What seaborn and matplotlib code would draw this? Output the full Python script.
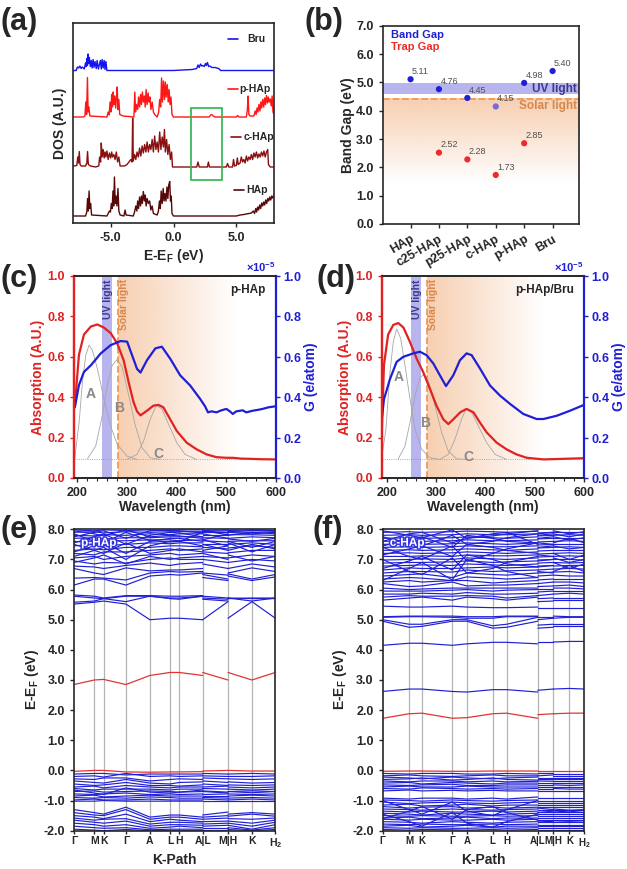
import numpy as np
import pandas as pd
import matplotlib
matplotlib.use("Agg")
import matplotlib.pyplot as plt
import matplotlib.patheffects as pe
import seaborn as sns
from matplotlib.patches import Rectangle
from matplotlib.colors import to_rgb
from matplotlib.ticker import MultipleLocator, FormatStrFormatter


# -------------------------
# Data: (a) DOS, (E, DOS) pairs
# -------------------------
bru_dos = [(-8.0, 0.0), (-7.75, 0.0), (-7.65, 0.07), (-7.55, 0.05), (-7.45, 0.09), (-7.35, 0.04),
           (-7.25, 0.07), (-7.1, 0.03), (-7.0, 0.15), (-6.95, 0.08), (-6.9, 0.24), (-6.85, 0.1),
           (-6.8, 0.33), (-6.75, 0.14), (-6.7, 0.26), (-6.62, 0.08), (-6.55, 0.2), (-6.48, 0.05),
           (-6.4, 0.22), (-6.33, 0.06), (-6.25, 0.18), (-6.15, 0.04), (-6.08, 0.2), (-5.98, 0.03),
           (-5.9, 0.12), (-5.82, 0.2), (-5.75, 0.03), (-5.68, 0.22), (-5.6, 0.05), (-5.52, 0.2),
           (-5.45, 0.02), (-5.38, 0.18), (-5.3, 0.0), (0.0, 0.0), (1.5, 0.02), (1.85, 0.04),
           (1.95, 0.11), (2.05, 0.06), (2.15, 0.13), (2.25, 0.09), (2.35, 0.1), (2.45, 0.08),
           (2.55, 0.14), (2.62, 0.1), (2.7, 0.16), (2.8, 0.08), (2.9, 0.09), (3.05, 0.06),
           (3.3, 0.06), (3.6, 0.04), (3.75, 0.0), (8.0, 0.0)]

phap_dos = [(-8.0, 0.0), (-7.2, 0.0), (-7.05, 0.02), (-6.98, 0.3), (-6.92, 0.05), (-6.85, 0.79),
            (-6.8, 0.1), (-6.75, 0.2), (-6.65, 0.02), (-5.3, 0.0), (-5.2, 0.1), (-5.12, 0.04),
            (-5.05, 0.3), (-4.98, 0.1), (-4.92, 0.45), (-4.86, 0.2), (-4.8, 0.5), (-4.74, 0.25),
            (-4.68, 0.42), (-4.6, 0.18), (-4.55, 0.38), (-4.48, 0.6), (-4.42, 0.15), (-4.35, 0.35),
            (-4.28, 0.05), (-4.0, 0.02), (-3.15, 0.0), (-3.08, 0.5), (-3.02, 0.1), (-2.95, 0.25),
            (-2.85, 0.15), (-2.78, 0.4), (-2.7, 0.2), (-2.62, 0.45), (-2.55, 0.25), (-2.48, 0.5),
            (-2.4, 0.3), (-2.32, 0.42), (-2.25, 0.2), (-2.18, 0.55), (-2.1, 0.25), (-2.02, 0.48),
            (-1.95, 0.3), (-1.88, 0.4), (-1.8, 0.15), (-1.7, 0.3), (-1.6, 0.1), (-1.5, 0.05),
            (-1.3, 0.0), (-1.18, 0.1), (-1.1, 0.35), (-1.02, 0.2), (-0.95, 0.78), (-0.88, 0.3),
            (-0.8, 0.72), (-0.72, 0.35), (-0.65, 0.7), (-0.58, 0.4), (-0.5, 0.65), (-0.42, 0.3),
            (-0.35, 0.55), (-0.28, 0.25), (-0.2, 0.4), (-0.12, 0.05), (0.0, 0.0), (2.85, 0.0),
            (2.95, 0.04), (3.05, 0.05), (3.15, 0.02), (3.3, 0.0), (5.0, 0.0), (5.1, 0.03),
            (5.2, 0.0), (5.8, 0.0), (5.88, 0.15), (5.94, 0.42), (6.0, 0.05), (6.1, 0.02),
            (6.4, 0.02), (6.5, 0.12), (6.58, 0.05), (6.65, 0.18), (6.72, 0.1), (6.8, 0.25),
            (6.88, 0.12), (6.95, 0.3), (7.02, 0.18), (7.1, 0.35), (7.18, 0.2), (7.25, 0.38),
            (7.32, 0.25), (7.4, 0.43), (7.48, 0.28), (7.55, 0.4), (7.62, 0.3), (7.7, 0.36),
            (7.78, 0.22), (7.85, 0.42), (7.92, 0.1), (8.0, 0.05)]

chap_dos = [(-8.0, 0.02), (-7.7, 0.03), (-7.62, 0.2), (-7.56, 0.08), (-7.5, 0.31), (-7.44, 0.05),
            (-7.35, 0.02), (-7.0, 0.02), (-6.9, 0.08), (-6.84, 0.31), (-6.78, 0.05), (-6.6, 0.02),
            (-6.2, 0.0), (-5.95, 0.02), (-5.88, 0.2), (-5.8, 0.1), (-5.75, 0.48), (-5.68, 0.2),
            (-5.6, 0.35), (-5.52, 0.18), (-5.45, 0.3), (-5.38, 0.2), (-5.3, 0.32), (-5.2, 0.15),
            (-5.1, 0.28), (-5.0, 0.18), (-4.92, 0.3), (-4.85, 0.2), (-4.75, 0.25), (-4.65, 0.15),
            (-4.55, 0.3), (-4.45, 0.1), (-4.35, 0.2), (-4.25, 0.02), (-3.9, 0.02), (-3.7, 0.05),
            (-3.55, 0.1), (-3.4, 0.15), (-3.3, 0.1), (-3.25, 0.98), (-3.2, 0.12), (-3.1, 0.25),
            (-3.0, 0.15), (-2.9, 0.3), (-2.8, 0.2), (-2.7, 0.38), (-2.6, 0.22), (-2.5, 0.42),
            (-2.4, 0.28), (-2.3, 0.45), (-2.2, 0.3), (-2.1, 0.5), (-2.0, 0.3), (-1.9, 0.45),
            (-1.8, 0.35), (-1.7, 0.55), (-1.6, 0.3), (-1.5, 0.62), (-1.4, 0.35), (-1.3, 0.5),
            (-1.2, 0.3), (-1.1, 0.7), (-1.0, 0.35), (-0.9, 0.6), (-0.8, 0.4), (-0.72, 0.75),
            (-0.65, 0.3), (-0.55, 0.55), (-0.45, 0.25), (-0.35, 0.45), (-0.25, 0.15), (-0.15, 0.3),
            (-0.08, 0.0), (1.85, 0.0), (1.95, 0.1), (2.05, 0.0), (2.7, 0.0), (2.78, 0.1),
            (2.86, 0.0), (4.2, 0.0), (4.3, 0.07), (4.4, 0.0), (4.7, 0.0), (4.78, 0.15),
            (4.86, 0.02), (5.0, 0.03), (5.08, 0.18), (5.15, 0.05), (5.3, 0.08), (5.4, 0.2),
            (5.5, 0.1), (5.6, 0.15), (5.7, 0.08), (5.8, 0.22), (5.9, 0.12), (6.0, 0.2),
            (6.1, 0.15), (6.2, 0.25), (6.3, 0.15), (6.4, 0.28), (6.5, 0.2), (6.6, 0.3),
            (6.7, 0.18), (6.8, 0.26), (6.9, 0.2), (7.0, 0.3), (7.1, 0.22), (7.2, 0.32),
            (7.3, 0.2), (7.4, 0.3), (7.5, 0.35), (7.56, 0.05), (7.7, 0.0), (8.0, 0.0)]

hap_dos = [(-8.0, 0.0), (-7.0, 0.0), (-6.9, 0.08), (-6.84, 0.35), (-6.78, 0.1), (-6.72, 0.5),
           (-6.66, 0.15), (-6.6, 0.25), (-6.52, 0.02), (-5.3, 0.0), (-5.2, 0.05), (-5.1, 0.1),
           (-5.02, 0.08), (-4.95, 0.25), (-4.88, 0.15), (-4.82, 0.5), (-4.76, 0.2), (-4.7, 0.78),
           (-4.64, 0.25), (-4.58, 0.4), (-4.5, 0.2), (-4.42, 0.55), (-4.35, 0.1), (-4.25, 0.02),
           (-3.95, 0.0), (-3.85, 0.12), (-3.78, 0.02), (-3.2, 0.0), (-3.1, 0.08), (-3.0, 0.2),
           (-2.92, 0.1), (-2.85, 0.3), (-2.78, 0.15), (-2.7, 0.38), (-2.62, 0.2), (-2.55, 0.4),
           (-2.48, 0.25), (-2.4, 0.49), (-2.32, 0.3), (-2.25, 0.42), (-2.18, 0.2), (-2.1, 0.35),
           (-2.0, 0.25), (-1.9, 0.3), (-1.8, 0.12), (-1.7, 0.2), (-1.6, 0.05), (-1.3, 0.02),
           (-1.2, 0.1), (-1.12, 0.3), (-1.05, 0.15), (-0.98, 0.5), (-0.9, 0.25), (-0.82, 0.55),
           (-0.75, 0.3), (-0.68, 0.45), (-0.6, 0.3), (-0.52, 0.58), (-0.45, 0.35), (-0.38, 0.62),
           (-0.3, 0.69), (-0.24, 0.3), (-0.18, 0.4), (-0.12, 0.05), (0.0, 0.0), (5.0, 0.0),
           (5.3, 0.02), (5.6, 0.03), (5.8, 0.04), (6.0, 0.05), (6.2, 0.06), (6.35, 0.1),
           (6.45, 0.05), (6.55, 0.15), (6.62, 0.08), (6.7, 0.18), (6.78, 0.12), (6.86, 0.22),
           (6.94, 0.15), (7.02, 0.26), (7.1, 0.2), (7.18, 0.28), (7.26, 0.22), (7.34, 0.32),
           (7.42, 0.25), (7.5, 0.35), (7.58, 0.3), (7.66, 0.38), (7.74, 0.32), (7.82, 0.4),
           (7.9, 0.36), (8.0, 0.42)]

dos_offsets = {"HAp": 0.14, "c-HAp": 1.12, "p-HAp": 2.12, "Bru": 3.05}


# -------------------------
# Data: (b) gaps
# -------------------------
materials = ["HAp", "c25-HAp", "p25-HAp", "c-HAp", "p-HAp", "Bru"]
band_gap = [5.11, 4.76, 4.45, 4.15, 4.98, 5.40]
trap_gap = [np.nan, 2.52, 2.28, 1.73, 2.85, np.nan]
uv_gap = (4.60, 4.97)
solar_gap = 4.42


# -------------------------
# Data: (c), (d) absorption (A.U.) and G (x1e-5 e/atom), (nm, value)
# -------------------------
abs_phap = [(194.7, 0.358), (203, 0.61), (213, 0.71), (227, 0.75), (240, 0.76), (253, 0.745),
            (267, 0.717), (280, 0.667), (293, 0.583), (303, 0.475), (313, 0.375), (320, 0.33),
            (327, 0.31), (340, 0.333), (353, 0.358), (363, 0.362), (373, 0.35), (387, 0.29),
            (400, 0.233), (420, 0.175), (440, 0.142), (460, 0.117), (480, 0.103), (500, 0.1),
            (513, 0.1), (530, 0.096), (547, 0.095), (570, 0.093), (599, 0.092)]
g_phap = [(194.7, 0.35), (203, 0.46), (213, 0.525), (227, 0.558), (247, 0.617), (267, 0.658),
          (287, 0.678), (300, 0.675), (310, 0.608), (320, 0.54), (327, 0.522), (340, 0.583),
          (357, 0.642), (370, 0.65), (387, 0.59), (407, 0.508), (427, 0.458), (447, 0.392),
          (457, 0.355), (463, 0.325), (470, 0.33), (480, 0.325), (490, 0.335), (500, 0.342),
          (507, 0.33), (513, 0.317), (520, 0.33), (533, 0.335), (540, 0.325), (553, 0.333),
          (565, 0.338), (573, 0.342), (585, 0.35), (599, 0.355)]
fit_phap_a = [(194.7, 0.10), (203.3, 0.275), (210, 0.475), (216.7, 0.608), (223.3, 0.658),
              (230, 0.633), (240, 0.542), (253.3, 0.392), (266.7, 0.258), (280, 0.167),
              (300, 0.108), (320, 0.092)]
fit_phap_b = [(220, 0.095), (236.7, 0.158), (250, 0.308), (260, 0.458), (270, 0.558),
              (280, 0.587), (290, 0.55), (303.3, 0.408), (316.7, 0.258), (330, 0.15),
              (346.7, 0.10), (366.7, 0.092)]
fit_phap_c = [(300, 0.092), (320, 0.117), (333.3, 0.183), (346.7, 0.292), (358.7, 0.358),
              (370, 0.342), (383.3, 0.267), (400, 0.175), (416.7, 0.117), (440, 0.092)]

abs_bru = [(190.5, 0.25), (194.6, 0.56), (203, 0.71), (213.5, 0.758), (223.6, 0.767), (234, 0.745),
           (247, 0.675), (261, 0.59), (274, 0.525), (288, 0.44), (301, 0.358), (315, 0.29),
           (325, 0.267), (335, 0.29), (349, 0.325), (362, 0.342), (376, 0.325), (389, 0.275),
           (403, 0.225), (423, 0.175), (443, 0.142), (463, 0.117), (484, 0.10), (518, 0.092),
           (560, 0.095), (600, 0.098)]
g_bru = [(190.5, 0.30), (194.6, 0.39), (206.8, 0.49), (220.3, 0.575), (233.8, 0.60), (254, 0.617),
         (267.6, 0.625), (281, 0.608), (294.6, 0.567), (308, 0.508), (320.3, 0.455), (335, 0.508),
         (348.6, 0.583), (362, 0.617), (372.3, 0.608), (389.2, 0.542), (409.5, 0.458),
         (429.7, 0.408), (450, 0.367), (477, 0.317), (504, 0.292), (517.6, 0.292),
         (544.6, 0.308), (571.6, 0.333), (600, 0.362)]
fit_bru_a = [(190, 0.10), (198.6, 0.242), (206.8, 0.525), (213.5, 0.675), (220.3, 0.738),
             (228.4, 0.692), (237.2, 0.558), (247.3, 0.392), (257.4, 0.242), (271, 0.142),
             (287.8, 0.10), (308, 0.092)]
fit_bru_b = [(223.6, 0.095), (237.2, 0.158), (247.3, 0.275), (257.4, 0.408), (267.6, 0.495),
             (274.3, 0.512), (284.5, 0.483), (298, 0.358), (311.5, 0.225), (325, 0.133),
             (341.9, 0.095), (362, 0.092)]
fit_bru_c = [(308, 0.092), (325, 0.117), (338.5, 0.192), (352, 0.292), (360.8, 0.342),
             (372.3, 0.325), (385.8, 0.258), (402.7, 0.175), (419.6, 0.117), (443.2, 0.092)]
fit_baseline = 0.092
uv_nm = (250, 270)
solar_nm = 282


# -------------------------
# Data: (e), (f) band energies at path nodes
# each band: 8 values on G-M-K-G-A-L-H-A, 2 on L-M, 3 on H-K-H2
# -------------------------
kpath_labels = ["Γ", "M", "K", "Γ", "A", "L", "H", "A|L", "M|H", "K", "H$_2$"]
kx_phap = [0, 0.101, 0.147, 0.258, 0.377, 0.477, 0.523, 0.639, 0.765, 0.884, 1.0]
kx_chap = [0, 0.131, 0.195, 0.345, 0.417, 0.545, 0.615, 0.769, 0.846, 0.926, 1.0]

phap_red_bands = [
    [2.85, 3.0, 3.02, 2.85, 3.15, 3.25, 3.25, 3.15, 3.25, 3.0, 3.25, 3.0, 3.25],
    [-0.03, 0.0, 0.0, -0.05, -0.06, -0.05, -0.05, -0.04, -0.02, 0.0, 0.0, -0.02, -0.02],
]
phap_blue_bands = [
    [-0.12, -0.10, -0.10, -0.15, -0.12, -0.12, -0.12, -0.12, -0.10, -0.12, -0.12, -0.10, -0.12],
    [-0.20, -0.18, -0.22, -0.10, -0.20, -0.18, -0.20, -0.18, -0.18, -0.20, -0.20, -0.20, -0.18],
    [-0.28, -0.30, -0.25, -0.25, -0.35, -0.30, -0.28, -0.30, -0.25, -0.28, -0.28, -0.30, -0.28],
    [-0.35, -0.40, -0.42, -0.30, -0.42, -0.45, -0.40, -0.38, -0.35, -0.40, -0.38, -0.42, -0.40],
    [-0.45, -0.50, -0.48, -0.40, -0.50, -0.50, -0.52, -0.48, -0.45, -0.50, -0.48, -0.50, -0.48],
    [-0.55, -0.52, -0.58, -0.50, -0.55, -0.58, -0.55, -0.55, -0.55, -0.52, -0.55, -0.58, -0.55],
    [-0.60, -0.65, -0.62, -0.62, -0.62, -0.65, -0.62, -0.62, -0.60, -0.62, -0.62, -0.65, -0.62],
    [-0.70, -0.68, -0.72, -0.70, -0.68, -0.70, -0.72, -0.70, -0.68, -0.72, -0.70, -0.68, -0.70],
    [-0.78, -0.80, -0.78, -0.75, -0.80, -0.78, -0.80, -0.78, -0.80, -0.78, -0.78, -0.80, -0.78],
    [-0.85, -0.82, -0.88, -0.85, -0.82, -0.85, -0.85, -0.85, -0.85, -0.85, -0.85, -0.82, -0.85],
    [-0.90, -0.92, -0.90, -0.92, -0.88, -0.90, -0.92, -0.92, -0.90, -0.92, -0.92, -0.90, -0.92],
    [-0.98, -0.95, -0.98, -0.98, -0.95, -0.98, -0.98, -0.98, -0.95, -0.98, -0.98, -0.95, -0.98],
    [-1.02, -1.02, -1.00, -1.02, -1.02, -1.02, -1.02, -1.02, -1.02, -1.02, -1.02, -1.02, -1.02],
    [-0.65, -0.75, -0.80, -0.58, -0.72, -0.75, -0.72, -0.65, -0.70, -0.75, -0.70, -0.74, -0.70],
    [-1.30, -1.40, -1.45, -1.22, -1.55, -1.48, -1.48, -1.55, -1.48, -1.38, -1.45, -1.40, -1.45],
    [-1.40, -1.48, -1.50, -1.30, -1.62, -1.55, -1.55, -1.62, -1.55, -1.50, -1.52, -1.45, -1.52],
    [-1.50, -1.55, -1.60, -1.45, -1.70, -1.62, -1.65, -1.70, -1.62, -1.58, -1.60, -1.62, -1.58],
    [-1.58, -1.65, -1.62, -1.60, -1.78, -1.72, -1.72, -1.75, -1.70, -1.68, -1.68, -1.75, -1.65],
    [-1.65, -1.72, -1.75, -1.68, -1.85, -1.80, -1.80, -1.82, -1.78, -1.75, -1.75, -1.85, -1.72],
    [-1.75, -1.80, -1.85, -1.80, -1.92, -1.88, -1.85, -1.90, -1.85, -1.82, -1.82, -1.95, -1.80],
    [-1.85, -1.90, -1.92, -1.90, -1.97, -1.95, -1.95, -1.95, -1.92, -1.92, -1.90, -1.98, -1.90],
    [-1.95, -1.98, -2.00, -1.96, -2.00, -2.00, -2.00, -2.00, -1.98, -1.98, -1.96, -2.00, -1.96],
    [5.52, 5.58, 5.62, 5.52, 5.00, 5.05, 5.05, 5.00, 5.00, 5.60, 5.05, 5.60, 5.05],
    [5.58, 5.62, 5.70, 5.60, 5.78, 5.70, 5.68, 5.78, 5.68, 5.62, 5.72, 5.62, 5.72],
    [5.78, 5.72, 5.70, 5.78, 5.78, 5.72, 5.72, 5.78, 5.72, 5.68, 5.70, 5.72, 5.72],
    [5.82, 5.78, 5.72, 5.80, 5.80, 5.78, 5.78, 5.80, 5.78, 5.72, 5.72, 5.70, 5.70],
    [6.15, 6.35, 6.35, 6.15, 6.45, 6.50, 6.48, 6.55, 6.40, 6.30, 6.45, 6.30, 6.42],
    [6.38, 6.40, 6.38, 6.32, 6.55, 6.60, 6.58, 6.60, 6.50, 6.35, 6.52, 6.35, 6.50],
    [6.70, 6.55, 6.50, 6.72, 6.62, 6.65, 6.65, 6.70, 6.55, 6.48, 6.55, 6.72, 6.60],
    [6.78, 6.75, 6.70, 6.80, 6.88, 6.80, 6.85, 6.90, 6.85, 6.70, 6.70, 6.85, 6.75],
    [6.95, 6.85, 6.90, 6.88, 7.00, 7.05, 7.00, 7.00, 7.00, 6.90, 6.90, 7.00, 6.95],
    [7.05, 7.10, 7.00, 7.10, 7.15, 7.20, 7.15, 7.20, 7.10, 7.05, 7.05, 7.15, 7.10],
    [7.20, 7.15, 7.25, 7.25, 7.30, 7.35, 7.30, 7.35, 7.25, 7.20, 7.22, 7.30, 7.30],
    [7.30, 7.35, 7.32, 7.40, 7.40, 7.45, 7.45, 7.42, 7.40, 7.35, 7.38, 7.45, 7.40],
    [7.45, 7.50, 7.45, 7.50, 7.55, 7.52, 7.55, 7.55, 7.50, 7.50, 7.50, 7.55, 7.50],
    [7.60, 7.55, 7.62, 7.62, 7.65, 7.65, 7.62, 7.65, 7.62, 7.58, 7.60, 7.62, 7.62],
    [7.70, 7.72, 7.68, 7.72, 7.72, 7.75, 7.75, 7.75, 7.72, 7.70, 7.70, 7.75, 7.72],
    [7.80, 7.78, 7.82, 7.80, 7.85, 7.82, 7.85, 7.85, 7.80, 7.80, 7.82, 7.82, 7.80],
    [7.90, 7.92, 7.88, 7.92, 7.90, 7.92, 7.92, 7.92, 7.90, 7.90, 7.92, 7.90, 7.92],
    [7.98, 7.95, 7.98, 7.96, 7.98, 7.96, 7.98, 7.98, 7.96, 7.98, 7.96, 7.98, 7.96],
    [7.10, 7.30, 7.40, 7.00, 7.45, 7.60, 7.60, 7.45, 7.50, 7.30, 7.55, 7.25, 7.50],
    [7.50, 7.30, 7.20, 7.55, 7.20, 7.30, 7.35, 7.25, 7.30, 7.45, 7.30, 7.50, 7.35],
    [7.55, 7.75, 7.85, 7.50, 7.80, 7.90, 7.88, 7.75, 7.85, 7.70, 7.80, 7.90, 7.85],
    [7.85, 7.60, 7.55, 7.90, 7.62, 7.58, 7.60, 7.90, 7.65, 7.85, 7.68, 7.60, 7.70],
    [7.25, 7.45, 7.55, 7.20, 7.60, 7.70, 7.70, 7.60, 7.65, 7.45, 7.60, 7.40, 7.60],
    [6.90, 7.05, 7.15, 6.85, 7.10, 7.00, 7.05, 7.10, 7.20, 7.00, 7.15, 6.95, 7.10],
    [7.95, 7.85, 7.78, 7.98, 7.75, 7.80, 7.78, 7.70, 7.92, 7.95, 7.90, 7.85, 7.90],
    [7.75, 7.90, 7.95, 7.70, 7.95, 7.98, 7.95, 7.88, 7.95, 7.82, 7.92, 7.96, 7.95],
]

chap_red_bands = [
    [1.73, 1.88, 1.90, 1.73, 1.75, 1.88, 1.90, 1.73, 1.85, 1.88, 1.88, 1.90, 1.90],
    [-0.03, -0.02, -0.02, -0.03, -0.03, -0.02, -0.02, -0.02, -0.02, -0.02, -0.02, -0.02, -0.02],
]
chap_blue_bands = [
    [2.62, 2.70, 2.70, 2.62, 2.60, 2.68, 2.68, 2.60, 2.66, 2.70, 2.70, 2.72, 2.70],
    [4.15, 4.22, 4.22, 4.15, 4.20, 4.25, 4.25, 4.20, 4.25, 4.25, 4.26, 4.28, 4.28],
    [4.95, 4.75, 4.78, 4.95, 4.95, 4.72, 4.75, 4.95, 4.72, 4.75, 4.78, 4.78, 4.78],
    [5.00, 4.85, 4.85, 5.00, 5.00, 4.80, 4.85, 5.08, 4.82, 4.85, 4.85, 4.85, 4.85],
    [5.08, 5.10, 5.10, 5.08, 5.05, 5.05, 5.10, 5.10, 5.00, 5.05, 5.05, 5.08, 5.08],
    [5.10, 5.12, 5.12, 5.12, 5.10, 5.10, 5.12, 5.12, 5.10, 5.10, 5.12, 5.10, 5.10],
    [5.45, 5.42, 5.42, 5.45, 5.42, 5.40, 5.40, 5.42, 5.40, 5.40, 5.38, 5.38, 5.38],
    [5.65, 5.72, 5.75, 5.65, 5.75, 5.70, 5.65, 5.75, 5.60, 5.62, 5.65, 5.65, 5.65],
    [5.75, 5.80, 5.78, 5.78, 5.80, 5.78, 5.72, 5.80, 5.70, 5.72, 5.72, 5.72, 5.72],
    [5.85, 5.85, 5.88, 5.85, 5.90, 5.85, 5.85, 5.88, 5.80, 5.85, 5.85, 5.88, 5.85],
    [5.95, 5.95, 5.95, 5.98, 6.00, 5.95, 5.98, 6.00, 5.92, 5.95, 5.95, 5.95, 5.95],
    [6.05, 6.00, 6.02, 6.05, 6.05, 6.05, 6.05, 6.05, 6.02, 6.02, 6.05, 6.05, 6.02],
    [6.20, 6.10, 6.12, 6.25, 6.12, 6.15, 6.15, 6.20, 6.10, 6.12, 6.12, 6.15, 6.10],
    [6.25, 6.30, 6.25, 6.30, 6.30, 6.22, 6.25, 6.30, 6.20, 6.25, 6.25, 6.25, 6.22],
    [6.35, 6.40, 6.38, 6.30, 6.42, 6.38, 6.35, 6.40, 6.32, 6.35, 6.35, 6.35, 6.35],
    [6.45, 6.50, 6.52, 6.40, 6.55, 6.50, 6.48, 6.55, 6.45, 6.48, 6.48, 6.45, 6.45],
    [6.55, 6.60, 6.60, 6.58, 6.65, 6.60, 6.62, 6.65, 6.55, 6.58, 6.58, 6.60, 6.55],
    [6.65, 6.72, 6.70, 6.70, 6.72, 6.75, 6.72, 6.75, 6.65, 6.68, 6.68, 6.70, 6.68],
    [6.78, 6.80, 6.82, 6.80, 6.85, 6.82, 6.80, 6.85, 6.78, 6.80, 6.78, 6.80, 6.80],
    [6.88, 6.90, 6.90, 6.92, 6.95, 6.90, 6.92, 6.95, 6.88, 6.90, 6.90, 6.88, 6.90],
    [6.98, 7.00, 7.02, 7.00, 7.05, 7.02, 7.00, 7.05, 6.98, 7.00, 7.00, 7.00, 6.98],
    [7.10, 7.10, 7.12, 7.10, 7.15, 7.12, 7.12, 7.15, 7.08, 7.10, 7.10, 7.12, 7.10],
    [7.20, 7.22, 7.20, 7.22, 7.25, 7.22, 7.20, 7.25, 7.18, 7.20, 7.20, 7.22, 7.20],
    [7.30, 7.32, 7.30, 7.32, 7.35, 7.32, 7.30, 7.35, 7.28, 7.30, 7.30, 7.30, 7.30],
    [7.40, 7.42, 7.40, 7.42, 7.45, 7.42, 7.42, 7.45, 7.38, 7.40, 7.40, 7.42, 7.40],
    [7.50, 7.52, 7.50, 7.52, 7.55, 7.52, 7.50, 7.55, 7.48, 7.50, 7.50, 7.50, 7.50],
    [7.60, 7.62, 7.60, 7.62, 7.65, 7.62, 7.62, 7.65, 7.58, 7.60, 7.60, 7.62, 7.60],
    [7.70, 7.72, 7.70, 7.72, 7.75, 7.72, 7.70, 7.75, 7.68, 7.70, 7.70, 7.70, 7.70],
    [7.80, 7.82, 7.80, 7.82, 7.85, 7.82, 7.82, 7.85, 7.78, 7.80, 7.80, 7.82, 7.80],
    [7.90, 7.92, 7.90, 7.92, 7.94, 7.92, 7.90, 7.94, 7.88, 7.90, 7.90, 7.90, 7.90],
    [6.30, 6.70, 6.90, 6.32, 7.00, 6.80, 6.60, 6.40, 6.75, 6.80, 6.90, 6.70, 6.85],
    [7.00, 6.60, 6.50, 7.05, 6.55, 6.70, 6.90, 7.10, 6.60, 6.55, 6.60, 6.80, 6.60],
    [7.40, 7.10, 7.00, 7.45, 6.95, 7.20, 7.35, 7.55, 7.15, 7.10, 7.20, 7.00, 7.15],
    [7.60, 7.85, 7.90, 7.55, 7.70, 7.85, 7.90, 7.50, 7.80, 7.85, 7.85, 7.75, 7.85],
    [7.45, 7.65, 7.75, 7.40, 7.80, 7.70, 7.60, 7.55, 7.70, 7.75, 7.75, 7.65, 7.72],
    [7.75, 7.55, 7.45, 7.80, 7.50, 7.60, 7.72, 7.85, 7.55, 7.50, 7.55, 7.70, 7.55],
    [7.95, 7.80, 7.72, 7.98, 7.70, 7.78, 7.85, 7.95, 7.85, 7.90, 7.95, 7.85, 7.92],
    [7.15, 7.35, 7.45, 7.10, 7.50, 7.40, 7.30, 7.20, 7.40, 7.45, 7.45, 7.35, 7.40],
    [6.70, 6.95, 7.10, 6.65, 7.15, 7.00, 6.85, 6.75, 6.95, 7.00, 7.05, 6.90, 7.00],
    [-0.10, -0.12, -0.10, -0.10, -0.12, -0.12, -0.10, -0.12, -0.10, -0.10, -0.12, -0.12, -0.12],
    [-0.18, -0.15, -0.18, -0.20, -0.18, -0.15, -0.18, -0.18, -0.18, -0.15, -0.18, -0.18, -0.18],
    [-0.22, -0.25, -0.28, -0.22, -0.25, -0.28, -0.25, -0.22, -0.25, -0.25, -0.25, -0.25, -0.25],
    [-0.30, -0.28, -0.25, -0.32, -0.30, -0.25, -0.30, -0.32, -0.30, -0.30, -0.30, -0.30, -0.30],
    [-0.35, -0.38, -0.35, -0.35, -0.38, -0.35, -0.38, -0.36, -0.35, -0.36, -0.36, -0.36, -0.36],
    [-0.42, -0.40, -0.45, -0.40, -0.42, -0.45, -0.42, -0.42, -0.42, -0.42, -0.42, -0.42, -0.42],
    [-0.48, -0.50, -0.48, -0.46, -0.50, -0.50, -0.48, -0.48, -0.48, -0.48, -0.48, -0.50, -0.48],
    [-0.55, -0.52, -0.55, -0.55, -0.52, -0.55, -0.55, -0.55, -0.55, -0.55, -0.55, -0.55, -0.55],
    [-0.60, -0.62, -0.58, -0.60, -0.62, -0.60, -0.62, -0.60, -0.62, -0.62, -0.60, -0.62, -0.62],
    [-0.68, -0.65, -0.68, -0.66, -0.68, -0.66, -0.68, -0.68, -0.68, -0.68, -0.68, -0.68, -0.68],
    [-0.92, -0.95, -0.92, -0.92, -0.95, -0.92, -0.95, -0.88, -0.92, -0.92, -0.92, -0.92, -0.92],
    [-0.98, -1.00, -1.02, -0.98, -1.00, -1.02, -1.00, -0.98, -1.00, -1.00, -1.00, -1.00, -1.00],
    [-1.05, -1.10, -1.08, -1.05, -1.08, -1.10, -1.08, -1.05, -1.08, -1.08, -1.08, -1.08, -1.08],
    [-1.15, -1.12, -1.18, -1.15, -1.12, -1.18, -1.15, -1.15, -1.15, -1.15, -1.15, -1.15, -1.15],
    [-1.20, -1.25, -1.22, -1.20, -1.25, -1.22, -1.25, -1.22, -1.22, -1.22, -1.22, -1.22, -1.22],
    [-1.28, -1.30, -1.32, -1.28, -1.30, -1.32, -1.30, -1.28, -1.30, -1.30, -1.30, -1.30, -1.30],
    [-1.35, -1.38, -1.35, -1.38, -1.38, -1.35, -1.38, -1.35, -1.38, -1.38, -1.38, -1.38, -1.38],
    [-1.42, -1.45, -1.48, -1.42, -1.45, -1.48, -1.45, -1.42, -1.45, -1.45, -1.45, -1.45, -1.45],
    [-1.50, -1.52, -1.50, -1.52, -1.52, -1.50, -1.52, -1.50, -1.52, -1.52, -1.52, -1.52, -1.52],
    [-1.58, -1.55, -1.60, -1.58, -1.55, -1.60, -1.58, -1.58, -1.58, -1.58, -1.58, -1.58, -1.58],
    [-1.62, -1.65, -1.62, -1.65, -1.65, -1.62, -1.65, -1.62, -1.65, -1.65, -1.65, -1.65, -1.65],
    [-1.70, -1.72, -1.75, -1.70, -1.72, -1.75, -1.72, -1.70, -1.72, -1.72, -1.72, -1.72, -1.72],
    [-1.78, -1.80, -1.78, -1.80, -1.80, -1.78, -1.80, -1.78, -1.80, -1.80, -1.80, -1.80, -1.80],
    [-1.85, -1.82, -1.88, -1.85, -1.82, -1.88, -1.85, -1.85, -1.85, -1.85, -1.85, -1.85, -1.85],
    [-1.90, -1.92, -1.90, -1.92, -1.92, -1.90, -1.92, -1.90, -1.92, -1.92, -1.92, -1.92, -1.92],
    [-1.96, -1.98, -1.96, -1.97, -1.98, -1.96, -1.98, -1.96, -1.98, -1.98, -1.98, -1.98, -1.98],
    [-1.00, -1.30, -1.45, -1.05, -1.35, -1.50, -1.30, -1.00, -1.25, -1.30, -1.28, -1.32, -1.30],
    [-1.60, -1.35, -1.20, -1.62, -1.30, -1.20, -1.40, -1.65, -1.40, -1.35, -1.38, -1.35, -1.40],
    [-1.45, -1.70, -1.85, -1.40, -1.75, -1.88, -1.70, -1.45, -1.68, -1.70, -1.72, -1.70, -1.72],
]


# -------------------------
# Style
# -------------------------
sns.set_theme(style="ticks")
plt.rcParams["font.family"] = ["Liberation Sans", "DejaVu Sans"]
plt.rcParams["font.weight"] = "bold"
plt.rcParams["axes.labelweight"] = "bold"
plt.rcParams["mathtext.fontset"] = "custom"
plt.rcParams["mathtext.rm"] = "Liberation Sans:bold"
plt.rcParams["mathtext.bf"] = "Liberation Sans:bold"
plt.rcParams["mathtext.default"] = "bf"
plt.rcParams["axes.linewidth"] = 1.2
plt.rcParams["xtick.major.width"] = 1.0
plt.rcParams["ytick.major.width"] = 1.0
plt.rcParams["xtick.major.size"] = 3
plt.rcParams["ytick.major.size"] = 3

BLUE = "#1f1fd6"
RED = "#e02222"
ORANGE = "#ee9a55"
UV = "#8a82e2"

W, H = 627, 869
fig = plt.figure(figsize=(W / 100, H / 100), dpi=100)


def px_axes(left, top, right, bottom):
    return fig.add_axes([left / W, 1 - bottom / H, (right - left) / W, (bottom - top) / H])


def fade(ax, extent, horizontal):
    # orange wash that fades to white
    n = 256
    alpha = np.linspace(0.42, 0.0, n)
    rgba = np.zeros((n, 4))
    rgba[:, :3] = to_rgb("#ec8c45")
    rgba[:, 3] = alpha
    img = rgba[None, :, :] if horizontal else rgba[:, None, :]
    ax.imshow(img, extent=extent, aspect="auto", origin="upper", zorder=0, interpolation="bilinear")


def draw_line(ax, pts, color, lw, offset=0.0, **kw):
    x, y = zip(*pts)
    sns.lineplot(x=list(x), y=np.array(y) + offset, color=color, lw=lw,
                 estimator=None, sort=False, ax=ax, **kw)


def bands_frame(kx, bands):
    segs = [kx[0:8], kx[7:9], kx[8:11]]
    rows = []
    for b, vals in enumerate(bands):
        parts = [vals[0:8], vals[8:10], vals[10:13]]
        for s, (xs, ys) in enumerate(zip(segs, parts)):
            for x, y in zip(xs, ys):
                rows.append({"k": x, "E": y, "line": f"{b}-{s}"})
    return pd.DataFrame(rows)


# -------------------------
# (a) DOS
# -------------------------
ax = px_axes(73, 23, 274, 223)
draw_line(ax, hap_dos, "#560808", 1.0, dos_offsets["HAp"])
draw_line(ax, chap_dos, "#8a1010", 1.0, dos_offsets["c-HAp"])
draw_line(ax, phap_dos, "#ff1616", 1.0, dos_offsets["p-HAp"])
draw_line(ax, bru_dos, "#1414f0", 1.0, dos_offsets["Bru"])
ax.add_patch(Rectangle((1.4, 0.86), 2.45, 1.44, fill=False, ec="#2db34c", lw=1.2, zorder=5))
for name, col, y, x0 in [("Bru", "#1414f0", 3.68, 4.3), ("p-HAp", "#ff1616", 2.68, 4.3),
                         ("c-HAp", "#8a1010", 1.72, 4.6), ("HAp", "#560808", 0.66, 4.85)]:
    ax.plot([x0, x0 + 0.8], [y, y], color=col, lw=1.2)
    ax.text(x0 + 0.95 if name != "Bru" else 5.9, y, name, fontsize=7.5, va="center", ha="left")
ax.set_xlim(-8, 8)
ax.set_ylim(0, 4.0)
ax.set_xticks([-5, 0, 5])
ax.xaxis.set_major_formatter(FormatStrFormatter("%.1f"))
ax.set_yticks([])
ax.tick_params(labelsize=9)
ax.set_xlabel("E-E$_F$ (eV)", fontsize=10, labelpad=2)
ax.set_ylabel("DOS (A.U.)", fontsize=10)


# -------------------------
# (b) Band gap / trap gap
# -------------------------
ax = px_axes(382.7, 25.7, 579, 224)
bg_colors = [BLUE, BLUE, BLUE, "#7a6ad8", BLUE, BLUE]
fade(ax, [-1, 6, 1.4, solar_gap], horizontal=False)
ax.axhspan(*uv_gap, color=UV, alpha=0.6, lw=0, zorder=1)
ax.axhline(solar_gap, color=ORANGE, ls="--", lw=1.3, zorder=2)
sns.scatterplot(x=materials, y=band_gap, hue=materials, palette=bg_colors, s=20,
                edgecolor="none", legend=False, ax=ax, zorder=5)
sns.scatterplot(x=materials, y=trap_gap, color="#ee2a2a", s=20, edgecolor="none",
                legend=False, ax=ax, zorder=5)
for i, (bg, tg) in enumerate(zip(band_gap, trap_gap)):
    ax.text(i + 0.05, bg + 0.27, f"{bg:.2f}", fontsize=6.5, color="#505050",
            fontweight="normal", ha="left", va="center")
    if not np.isnan(tg):
        ax.text(i + 0.05, tg + 0.27, f"{tg:.2f}", fontsize=6.5, color="#505050",
                fontweight="normal", ha="left", va="center")
ax.text(0.04, 0.955, "Band Gap", transform=ax.transAxes, color=BLUE, fontsize=8, va="center")
ax.text(0.04, 0.893, "Trap Gap", transform=ax.transAxes, color="#ee2a2a", fontsize=8, va="center")
ax.text(5.85, 4.75, "UV light", color="#3a3a8c", fontsize=8.5, ha="right", va="center")
ax.text(5.85, 4.17, "Solar light", color="#d8874a", fontsize=8.5, ha="right", va="center")
ax.set_xlim(-0.98, 5.93)
ax.set_ylim(0, 7)
ax.yaxis.set_major_locator(MultipleLocator(1))
ax.yaxis.set_major_formatter(FormatStrFormatter("%.1f"))
ax.tick_params(labelsize=9)
for lab in ax.get_xticklabels():
    lab.set_rotation(30)
    lab.set_ha("right")
    lab.set_rotation_mode("anchor")
ax.set_ylabel("Band Gap (eV)", fontsize=10, labelpad=1)
ax.set_xlabel("")


# -------------------------
# (c), (d) Absorption / G
# -------------------------
def absorption_panel(ax, absorb, gen, fits, label, xmin):
    fade(ax, [solar_nm, 520, 0, 1], horizontal=True)
    ax.axvspan(*uv_nm, color=UV, alpha=0.6, lw=0, zorder=1)
    ax.axvline(solar_nm, color=ORANGE, ls="--", lw=1.3, zorder=2)
    ax.axhline(fit_baseline, color="#909090", lw=0.6, ls=":", zorder=2)
    for pts in fits:
        draw_line(ax, pts, "#a6a6a6", 0.6, zorder=3)
    draw_line(ax, absorb, RED, 1.6, zorder=4)
    for letter, pts in zip("ABC", fits):
        px, py = max(pts, key=lambda p: p[1])
        ax.text(px + 4, py - 0.24, letter, fontsize=10, color="#888888", ha="center", va="center")
    ax.text((uv_nm[0] + uv_nm[1]) / 2 + 1, 0.985, "UV light", rotation=90,
            fontsize=7.5, color="#3a3a8c", ha="center", va="top")
    ax.text(solar_nm + 12, 0.985, "Solar light", rotation=90, fontsize=7.5,
            color="#d8874a", ha="center", va="top")
    ax.text(0.95, 0.93, label, transform=ax.transAxes, fontsize=8.5, ha="right", va="center")
    ax.set_xlim(xmin, 600)
    ax.set_ylim(0, 1.0)
    ax.xaxis.set_major_locator(MultipleLocator(100))
    ax.xaxis.set_minor_locator(MultipleLocator(20))
    ax.tick_params(axis="x", which="minor", length=2, width=0.8, bottom=True)
    ax.yaxis.set_major_locator(MultipleLocator(0.2))
    ax.yaxis.set_major_formatter(FormatStrFormatter("%.1f"))
    ax.tick_params(axis="both", labelsize=9)
    ax.tick_params(axis="y", colors=RED)
    ax.spines["left"].set_color(RED)
    ax.spines["left"].set_linewidth(1.6)
    ax.set_xlabel("Wavelength (nm)", fontsize=10, labelpad=1)
    ax.set_ylabel("Absorption (A.U.)", fontsize=10, color=RED, labelpad=2)

    ax2 = ax.twinx()
    x, y = zip(*gen)
    sns.lineplot(x=list(x), y=np.array(y) * 1e-5, color=BLUE, lw=1.6, estimator=None,
                 sort=False, ax=ax2)
    ax2.set_ylim(0, 1.0e-5)
    ax2.yaxis.set_major_locator(MultipleLocator(0.2e-5))
    ax2.ticklabel_format(axis="y", style="sci", scilimits=(0, 0), useMathText=True)
    ax2.yaxis.get_offset_text().set_color(BLUE)
    ax2.yaxis.get_offset_text().set_fontsize(8)
    ax2.tick_params(axis="y", colors=BLUE, labelsize=9, pad=2)
    ax2.spines["right"].set_color(BLUE)
    ax2.spines["right"].set_linewidth(1.6)
    ax2.spines["left"].set_color(RED)
    ax2.spines["left"].set_linewidth(1.6)
    ax2.set_ylabel("G (e/atom)", fontsize=10, color=BLUE, labelpad=1)


ax = px_axes(74, 276, 276, 478)
absorption_panel(ax, abs_phap, g_phap, [fit_phap_a, fit_phap_b, fit_phap_c], "p-HAp", 193)
ax = px_axes(381.7, 276, 584, 478)
absorption_panel(ax, abs_bru, g_bru, [fit_bru_a, fit_bru_b, fit_bru_c], "p-HAp/Bru", 190)


# -------------------------
# (e), (f) Band structures
# -------------------------
def band_panel(ax, kx, blue_bands, red_bands, label, tick_size):
    for x in kx[1:-1]:
        ax.axvline(x, color="#b4b4b4", lw=0.9, zorder=0)
    sns.lineplot(data=bands_frame(kx, blue_bands), x="k", y="E", units="line",
                 estimator=None, sort=False, color=BLUE, lw=0.85, ax=ax)
    sns.lineplot(data=bands_frame(kx, red_bands), x="k", y="E", units="line",
                 estimator=None, sort=False, color="#e03434", lw=0.9, ax=ax)
    ax.text(0.035, 0.955, label, transform=ax.transAxes, color="white", fontsize=8.5,
            ha="left", va="center", zorder=10,
            path_effects=[pe.withStroke(linewidth=2.2, foreground="#3535e0")])
    ax.set_xlim(0, 1)
    ax.set_ylim(-2, 8)
    ax.set_xticks(kx)
    ax.set_xticklabels(kpath_labels, fontsize=tick_size)
    ax.yaxis.set_major_locator(MultipleLocator(1))
    ax.yaxis.set_major_formatter(FormatStrFormatter("%.1f"))
    ax.tick_params(axis="y", labelsize=9)
    ax.tick_params(axis="x", length=2, pad=2)
    ax.set_xlabel("K-Path", fontsize=10, labelpad=2)
    ax.set_ylabel("E-E$_F$ (eV)", fontsize=10, labelpad=2)


ax = px_axes(74, 529.3, 275.3, 830.7)
band_panel(ax, kx_phap, phap_blue_bands, phap_red_bands, "p-HAp", 7.5)
ax = px_axes(382.7, 529.3, 584.3, 830.7)
band_panel(ax, kx_chap, chap_blue_bands, chap_red_bands, "c-HAp", 7)


# -------------------------
# Panel letters
# -------------------------
for letter, x, y in [("(a)", 0, 22), ("(b)", 304, 22), ("(c)", 0, 279),
                     ("(d)", 316, 279), ("(e)", 0, 530), ("(f)", 312, 530)]:
    fig.text(x / W, 1 - y / H, letter, fontsize=22, fontweight="bold", ha="left", va="center")

fig.savefig("out.png", dpi=100)
